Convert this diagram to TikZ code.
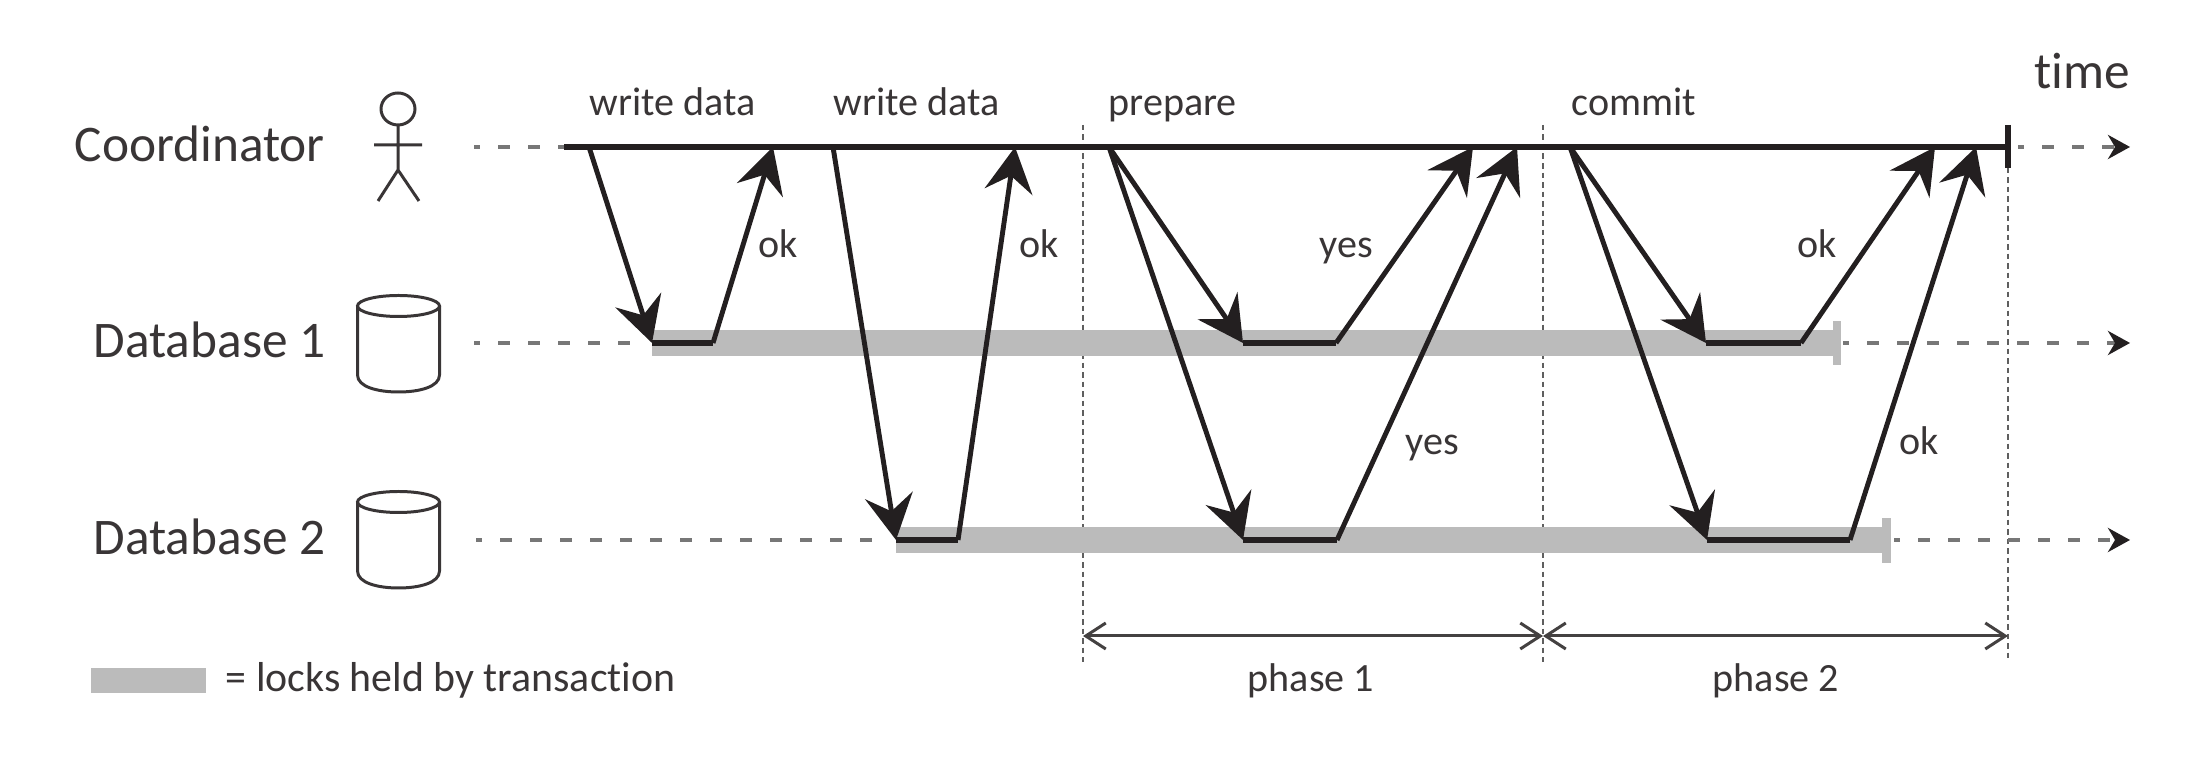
\documentclass[tikz,border=0pt]{standalone}
\usepackage{fontspec}
\setmainfont{Carlito}[Ligatures=NoCommon]
\usetikzlibrary{arrows.meta}
\definecolor{inkline}{HTML}{231F20}
\definecolor{lockgray}{HTML}{BBBBBB}
\definecolor{dashgray}{HTML}{777777}
\tikzset{
	big/.style={font=\fontsize{14.6}{16}\selectfont,text=inkline!90,inner sep=0pt,anchor=base west},
	small/.style={font=\fontsize{11.4}{13}\selectfont,text=inkline!90,inner sep=0pt,anchor=base west},
	msg/.style={draw=inkline,line width=1.4pt,-{Stealth[length=0.45cm,width=0.48cm,inset=0.16cm]}},
	flat/.style={draw=inkline,line width=1.5pt},
	track/.style={draw=dashgray,line width=1.1pt,dash pattern=on 0.12cm off 0.18cm,dash phase=0.06cm},
	trackhead/.style={-{Stealth[length=0.22cm,width=0.24cm,inset=0.07cm,inkline]}},
	guide/.style={draw=dashgray!80!black,line width=0.55pt,dash pattern=on 0.055cm off 0.04cm},
	lock/.style={fill=lockgray,draw=none},
	phase/.style={draw=inkline!85,line width=0.85pt,{Straight Barb[length=0.2cm,width=0.26cm]}-{Straight Barb[length=0.2cm,width=0.26cm]}},
	icon/.style={draw=inkline!90,line width=0.85pt}
}
\begin{document}
\begin{tikzpicture}[x=0.01cm,y=-0.01cm]
	\useasboundingbox (0,0) rectangle (2210,774);
	% names and labels
	\node (coord) [big, at={(74,162)}] {Coordinator};
	\node (db1) [big, at={(93,358)}] {Database 1};
	\node (db2) [big, at={(93,555)}] {Database 2};
	\node (time) [big, at={(2034,89)}] {time};
	\node (write1) [small, at={(589,116)}] {write data};
	\node (write2) [small, at={(833,116)}] {write data};
	\node (prep) [small, at={(1108,116)}] {prepare};
	\node (comm) [small, at={(1571,116)}] {commit};
	\node (ok1) [small, at={(758,258)}] {ok};
	\node (ok2) [small, at={(1019,258)}] {ok};
	\node (yes1) [small, at={(1319,258)}] {yes};
	\node (ok3) [small, at={(1797,258)}] {ok};
	\node (yes2) [small, at={(1405,455)}] {yes};
	\node (ok4) [small, at={(1899,455)}] {ok};
	\node (ph1) [small, at={(1247,692)}] {phase 1};
	\node (ph2) [small, at={(1712,692)}] {phase 2};
	\node (legend) [small, at={(225,692)}, font=\fontsize{11.9}{13}\selectfont] {= locks held by transaction};
	% guides
	\coordinate (g1a) at (1083,125); \coordinate (g1b) at (1083,662);
	\coordinate (g2a) at (1543,125); \coordinate (g2b) at (1543,662);
	\coordinate (g3a) at (2008,168); \coordinate (g3b) at (2008,662);
	\draw[guide] (g1a)--(g1b);
	\draw[guide] (g2a)--(g2b);
	\draw[guide] (g3a)--(g3b);
	% locks
	\fill[lock] (91,668) rectangle (206,693);
	\fill[lock] (652,330) rectangle (1833,356);
	\fill[lock] (1833,321) rectangle (1841,365);
	\fill[lock] (896,527) rectangle (1882,553);
	\fill[lock] (1882,518) rectangle (1891,563);
	% time lines
	\coordinate (c0) at (474,147); \coordinate (c1) at (564,147);
	\coordinate (c2) at (2008,147); \coordinate (c3) at (2018,147); \coordinate (c4) at (2130,147);
	\coordinate (tka) at (2008,125); \coordinate (tkb) at (2008,168);
	\coordinate (a0) at (474,343); \coordinate (a1) at (635,343);
	\coordinate (a2) at (1843,343); \coordinate (a3) at (2130,343);
	\coordinate (b0) at (476,540); \coordinate (b1) at (880,540);
	\coordinate (b2) at (1894,540); \coordinate (b3) at (2130,540);
	\draw[track] (c0)--(c1);
	\draw[track] (a0)--(a1);
	\draw[track] (b0)--(b1);
	\draw[track,trackhead] (c3)--(c4);
	\draw[track,trackhead] (a2)--(a3);
	\draw[track,trackhead] (b2)--(b3);
	\draw[flat] (c1)--(c2);
	\draw[flat] (tka)--(tkb);
	% write data
	\coordinate (w1s) at (589,147); \coordinate (w1d) at (652,343);
	\coordinate (w1u) at (713,343); \coordinate (w1e) at (773,147);
	\draw[msg] (w1s)--(w1d);
	\draw[flat] (w1d)--(w1u);
	\draw[msg] (w1u)--(w1e);
	\coordinate (w2s) at (833,147); \coordinate (w2d) at (896,540);
	\coordinate (w2u) at (958,540); \coordinate (w2e) at (1015,147);
	\draw[msg] (w2s)--(w2d);
	\draw[flat] (w2d)--(w2u);
	\draw[msg] (w2u)--(w2e);
	% prepare
	\coordinate (p0) at (1109,147);
	\coordinate (p1d) at (1243,343); \coordinate (p1u) at (1336,343); \coordinate (p1e) at (1473,147);
	\coordinate (p2d) at (1243,540); \coordinate (p2u) at (1337,540); \coordinate (p2e) at (1517,147);
	\draw[msg] (p0)--(p1d);
	\draw[flat] (p1d)--(p1u);
	\draw[msg] (p1u)--(p1e);
	\draw[msg] (p0)--(p2d);
	\draw[flat] (p2d)--(p2u);
	\draw[msg] (p2u)--(p2e);
	% commit
	\coordinate (m0) at (1570,147);
	\coordinate (m1d) at (1706,343); \coordinate (m1u) at (1801,343); \coordinate (m1e) at (1935,147);
	\coordinate (m2d) at (1707,540); \coordinate (m2u) at (1850,540); \coordinate (m2e) at (1976,147);
	\draw[msg] (m0)--(m1d);
	\draw[flat] (m1d)--(m1u);
	\draw[msg] (m1u)--(m1e);
	\draw[msg] (m0)--(m2d);
	\draw[flat] (m2d)--(m2u);
	\draw[msg] (m2u)--(m2e);
	% phases
	\coordinate (f0) at (1083,636); \coordinate (f1) at (1543,636); \coordinate (f2) at (2008,636);
	\draw[phase] (f0)--(f1);
	\draw[phase] (f1)--(f2);
	% actor
	\draw[icon] (398,109) ellipse (17 and 16);
	\draw[icon] (398,125)--(398,170) (374,145)--(422,145) (378,201)--(398,170)--(419,201);
	% cylinders
	\draw[icon] (398.5,306) ellipse (41 and 10.5);
	\draw[icon] (357.5,306)--(357.5,375) .. controls (357.5,387) and (378,392) .. (398.5,392) .. controls (419,392) and (439.5,387) .. (439.5,375)--(439.5,306);
	\draw[icon] (398.5,502) ellipse (41 and 10.5);
	\draw[icon] (357.5,502)--(357.5,571) .. controls (357.5,583) and (378,588) .. (398.5,588) .. controls (419,588) and (439.5,583) .. (439.5,571)--(439.5,502);
\end{tikzpicture}
\end{document}
